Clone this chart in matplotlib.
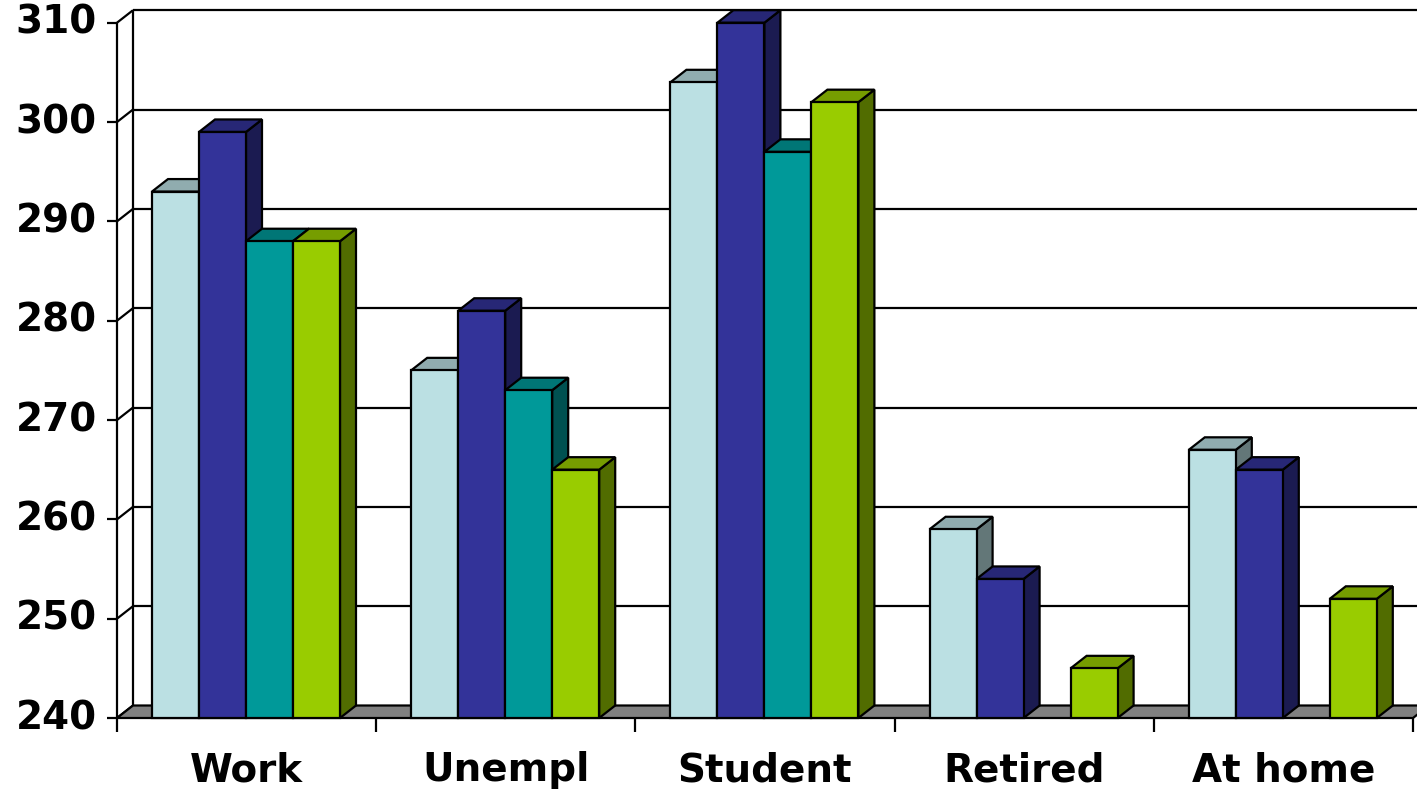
import numpy as np
import matplotlib
matplotlib.use("Agg")
import matplotlib.pyplot as plt
from matplotlib.patches import Polygon
from matplotlib.lines import Line2D

# Data
categories = ["Work", "Unempl", "Student", "Retired", "At home"]
series_a = [293, 275, 304, 259, 267]          # light blue
series_b = [299, 281, 310, 254, 265]          # dark blue
series_c = [288, 273, 297, np.nan, np.nan]    # teal
series_d = [288, 265, 302, 245, 252]          # green
y_ticks = [240, 250, 260, 270, 280, 290, 300, 310]

series = [series_a, series_b, series_c, series_d]
front_colors = ["#BBE0E3", "#333399", "#009999", "#99CC00"]


def shade(hex_color, f):
    r, g, b = matplotlib.colors.to_rgb(hex_color)
    return (r * f, g * f, b * f)


W, H, DPI = 1417, 795, 100
fig = plt.figure(figsize=(W / DPI, H / DPI), dpi=DPI)
fig.patch.set_facecolor("white")

left_px, right_px = 117, 1413
bottom_px, top_px = 718, 22.7
ax = fig.add_axes([left_px / W, (H - bottom_px) / H,
                   (right_px - left_px) / W, (bottom_px - top_px) / H])
ymin, ymax = 240, 310
ncat = len(categories)
ax.set_xlim(0, ncat)
ax.set_ylim(ymin, ymax)
ax.axis("off")

px_x = (right_px - left_px) / ncat
px_y = (bottom_px - top_px) / (ymax - ymin)
DX = 16 / px_x
DY = 12.5 / px_y

lw = 1.6
kw = dict(clip_on=False, color="black", lw=lw, solid_capstyle="butt")

# Back wall gridlines and side wall
for v in y_ticks:
    if v > ymin:
        ax.add_line(Line2D([DX, ncat + DX], [v + DY, v + DY], zorder=1, **kw))
    ax.add_line(Line2D([0, DX], [v, v + DY], zorder=1, **kw))
    ax.add_line(Line2D([-10 / px_x, 0], [v, v], zorder=1, **kw))
ax.add_line(Line2D([0, 0], [ymin, ymax], zorder=1, **kw))
ax.add_line(Line2D([DX, DX], [ymin + DY, ymax + DY], zorder=1, **kw))

# Floor
ax.add_patch(Polygon([(0, ymin), (ncat, ymin), (ncat + DX, ymin + DY), (DX, ymin + DY)],
                     closed=True, facecolor="#808080", edgecolor="black", lw=lw,
                     clip_on=False, zorder=2))

# Category ticks
for i in range(ncat + 1):
    ax.add_line(Line2D([i, i], [ymin, ymin - 14 / px_y], zorder=2, **kw))

# Bars
offset = 35 / px_x
bw = 47 / px_x
z = 3
for ci in range(ncat):
    for si, vals in enumerate(series):
        h = vals[ci]
        if np.isnan(h):
            continue
        x0 = ci + offset + si * bw
        x1 = x0 + bw
        fc = front_colors[si]
        side = Polygon([(x1, ymin), (x1, h), (x1 + DX, h + DY), (x1 + DX, ymin + DY)],
                       closed=True, facecolor=shade(fc, 0.53), edgecolor="black",
                       lw=lw, joinstyle="miter", clip_on=False, zorder=z)
        top = Polygon([(x0, h), (x1, h), (x1 + DX, h + DY), (x0 + DX, h + DY)],
                      closed=True, facecolor=shade(fc, 0.77), edgecolor="black",
                      lw=lw, joinstyle="miter", clip_on=False, zorder=z + 0.1)
        front = Polygon([(x0, ymin), (x1, ymin), (x1, h), (x0, h)],
                        closed=True, facecolor=fc, edgecolor="black",
                        lw=lw, joinstyle="miter", clip_on=False, zorder=z + 0.2)
        for p in (side, top, front):
            ax.add_patch(p)
        z += 1

# Labels
font = dict(family="DejaVu Sans", fontweight="bold", fontsize=28)
for v in y_ticks:
    ax.text(-20 / px_x, v, str(v), ha="right", va="center", **font)
for i, c in enumerate(categories):
    ax.text(i + 0.5, ymin - 52 / px_y, c, ha="center", va="center", **font)

fig.savefig("out.png", dpi=DPI)
